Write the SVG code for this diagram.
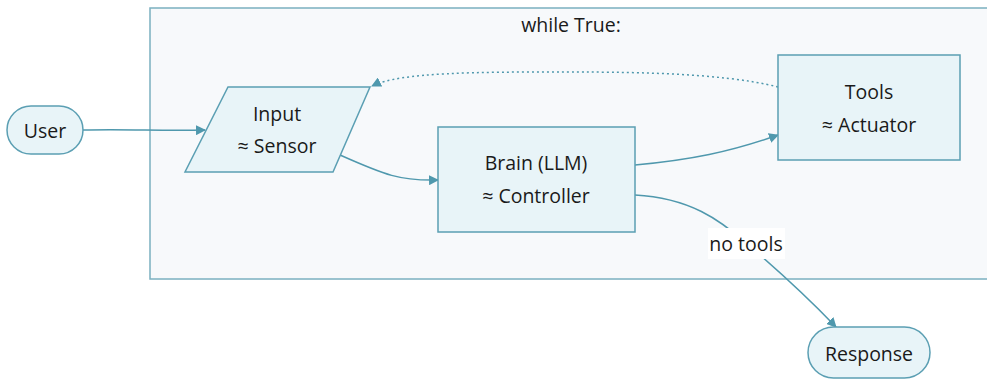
<svg xmlns="http://www.w3.org/2000/svg" width="987" height="380" viewBox="0 0 987 380">
<defs>
<style>
.node{fill:#e8f4f8;stroke:#5b9fb3;stroke-width:1.5}
.cluster{fill:#f7f9fb;stroke:#7bb0c0;stroke-width:1.5}
.edge{fill:none;stroke:#4f98ad;stroke-width:1.5}
.dot{stroke-dasharray:2 3}
text{font-family:"Open Sans","DejaVu Sans",sans-serif;font-size:19.5px;fill:#1a1a1a;text-anchor:middle;dominant-baseline:central}
</style>
<marker id="arr" viewBox="0 0 10 10" refX="9" refY="5" markerWidth="10" markerHeight="10" markerUnits="userSpaceOnUse" orient="auto">
<path d="M0,0 L10,5 L0,10 z" fill="#4f98ad"/>
</marker>
</defs>
<g id="cluster-loop">
<rect class="cluster" x="150" y="8" width="845" height="271"/>
<text x="571" y="24">while True:</text>
</g>
<g id="edges">
<path class="edge" d="M83,130 C130,129 160,131 205,130" marker-end="url(#arr)"/>
<path class="edge" d="M340,155 C385,175 400,181 438,180" marker-end="url(#arr)"/>
<path class="edge" d="M635,165 C690,160 730,152 778,135" marker-end="url(#arr)"/>
<path class="edge dot" d="M778,87 C720,72 620,72 560,72 C480,72 400,72 372,86" marker-end="url(#arr)"/>
<path class="edge" d="M635,195 C690,198 720,220 746,243 C780,272 810,300 836,327" marker-end="url(#arr)"/>
<rect x="708" y="228" width="77" height="31" fill="#ffffff"/>
<text x="746" y="243">no tools</text>
</g>
<g id="node-user">
<rect class="node" x="7" y="106" width="76" height="48" rx="24"/>
<text x="45" y="130">User</text>
</g>
<g id="node-input">
<polygon class="node" points="228,87 370,87 333,172 185,172"/>
<text x="277" y="113">Input</text>
<text x="277" y="145">≈ Sensor</text>
</g>
<g id="node-brain">
<rect class="node" x="438" y="127" width="197" height="105"/>
<text x="536" y="162">Brain (LLM)</text>
<text x="536" y="195">≈ Controller</text>
</g>
<g id="node-tools">
<rect class="node" x="778" y="55" width="182" height="105"/>
<text x="869" y="91">Tools</text>
<text x="869" y="124">≈ Actuator</text>
</g>
<g id="node-response">
<rect class="node" x="808" y="327" width="122" height="51" rx="25.5"/>
<text x="869" y="353">Response</text>
</g>
</svg>
